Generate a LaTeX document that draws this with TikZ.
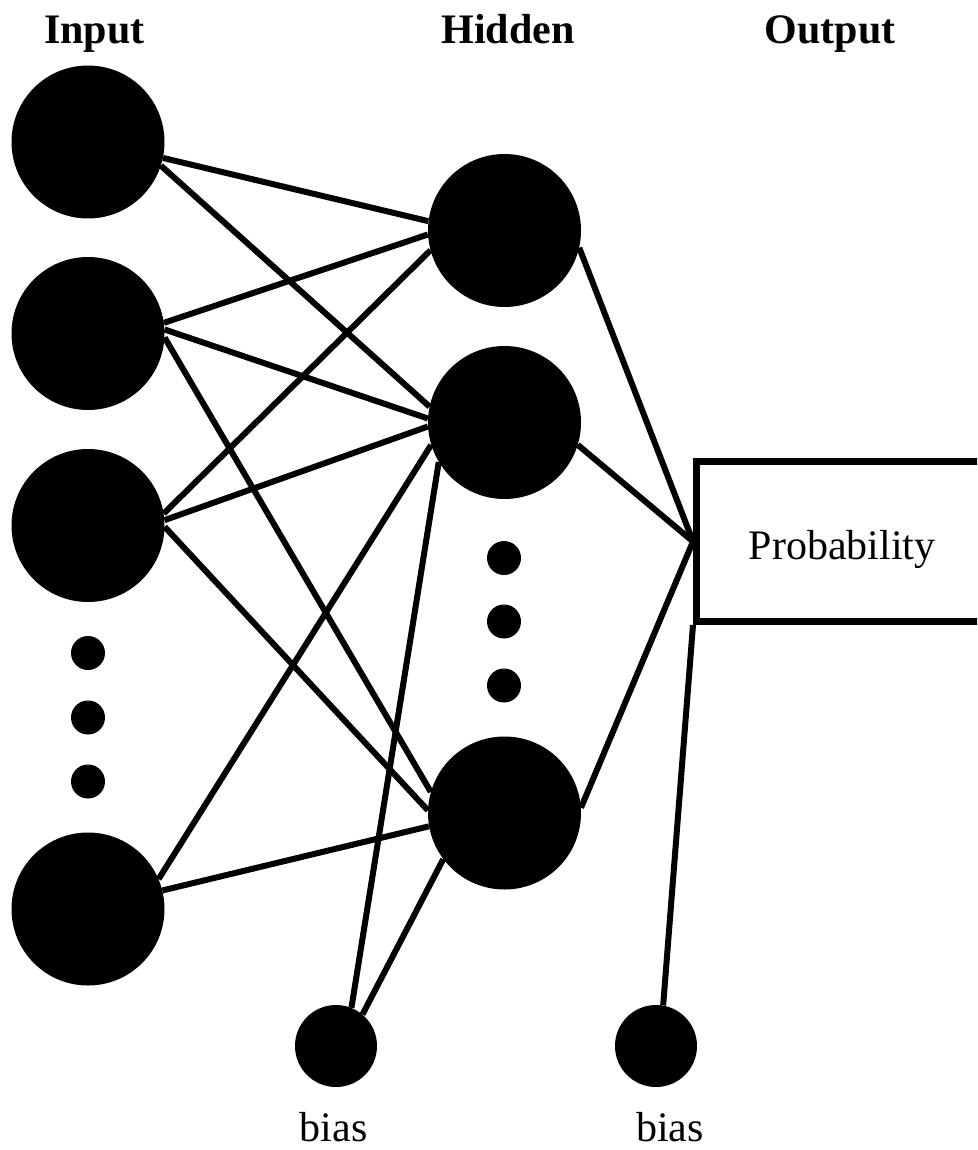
\documentclass[tikz,border=0pt]{standalone}
\usepackage{fontspec}
\setmainfont{Liberation Serif}
\begin{document}
\begin{tikzpicture}[x=1pt,y=-1pt,
  neuron/.style={circle,fill=black,inner sep=0pt,minimum size=153pt},
  dotnode/.style={circle,fill=black,inner sep=0pt,minimum size=34pt},
  biasnode/.style={circle,fill=black,inner sep=0pt,minimum size=82pt},
  conn/.style={line width=6pt},
  title/.style={anchor=base,inner sep=0pt,font=\fontsize{42}{50}\selectfont\bfseries},
  lbl/.style={anchor=base,inner sep=0pt,font=\fontsize{42}{50}\selectfont},
  outbox/.style={draw,line width=7pt,minimum width=291pt,minimum height=160pt,inner sep=0pt,
    text height=35pt,text depth=0pt,font=\fontsize{42}{50}\selectfont}]
\useasboundingbox (0,0) rectangle (977,1150);
\clip (0,0) rectangle (977,1150);

% titles
\node[title] (tin) at (94.5,44) {Input};
\node[title] (thid) at (508,44) {Hidden};
\node[title] (tout) at (830,44) {Output};

% input layer
\node[neuron] (in1) at (88,142) {};
\node[neuron] (in2) at (88,333.5) {};
\node[neuron] (in3) at (88,525.5) {};
\node[dotnode] (id1) at (88,653) {};
\node[dotnode] (id2) at (88,717.5) {};
\node[dotnode] (id3) at (88,781.5) {};
\node[neuron] (in4) at (88,909) {};

% hidden layer
\node[neuron] (h1) at (504.5,230.5) {};
\node[neuron] (h2) at (504.5,422.5) {};
\node[dotnode] (hd1) at (504,558) {};
\node[dotnode] (hd2) at (504,621.5) {};
\node[dotnode] (hd3) at (504,685.5) {};
\node[neuron] (h3) at (504.5,813) {};

% bias
\node[biasnode] (b1) at (336,1046) {};
\node[biasnode] (b2) at (656,1046) {};
\node[lbl] (lb1) at (333.5,1141) {bias};
\node[lbl] (lb2) at (670,1141) {bias};

% output
\node[outbox] (out) at (842,541.5) {Probability};

% connections input -> hidden
\draw[conn] (in1.-12) -- (h1.173);
\draw[conn] (in1.-18) -- (h2.168);
\draw[conn] (in2.8) -- (h1.183);
\draw[conn] (in2.3) -- (h2.177);
\draw[conn] (in2.-3) -- (h3.164);
\draw[conn] (in3.9) -- (h1.195);
\draw[conn] (in3.4) -- (h2.183);
\draw[conn] (in3.-1) -- (h3.178);
\draw[conn] (in4.23) -- (h2.197);
\draw[conn] (in4.14) -- (h3.190);
\draw[conn] (b1.68) -- (h2.211);
\draw[conn] (b1.50) -- (h3.217);

% hidden -> output
\draw[conn] (h1.-13) -- (out.west);
\draw[conn] (h2.-17) -- (out.west);
\draw[conn] (h3.4) -- (out.west);
\draw[conn] (b2.80) -- (out.south west);
\end{tikzpicture}
\end{document}
